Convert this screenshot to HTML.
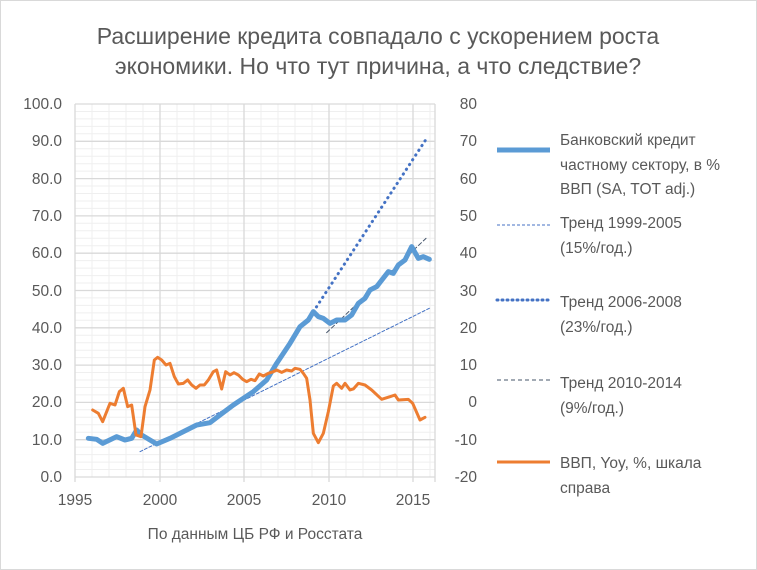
<!DOCTYPE html>
<html><head><meta charset="utf-8"><style>
body{margin:0;background:#fff}
svg{display:block;font-family:"Liberation Sans","DejaVu Sans",sans-serif;fill:#595959}
</style></head><body>
<svg width="757" height="570" viewBox="0 0 757 570" xmlns="http://www.w3.org/2000/svg">
<rect x="0.5" y="0.5" width="756" height="569" fill="#fff" stroke="#d9d9d9"/>
<text x="378" y="44" font-size="23" text-anchor="middle">Расширение кредита совпадало с ускорением роста</text>
<text x="378" y="74" font-size="23" text-anchor="middle">экономики. Но что тут причина, а что следствие?</text>
<g id="grid">
<g stroke="#efefef" stroke-width="1">
<path d="M75 111.5H435M75 118.9H435M75 126.4H435M75 133.8H435M75 148.7H435M75 156.2H435M75 163.7H435M75 171.1H435M75 186H435M75 193.5H435M75 201H435M75 208.4H435M75 223.3H435M75 230.8H435M75 238.3H435M75 245.7H435M75 260.6H435M75 268.1H435M75 275.6H435M75 283H435M75 297.9H435M75 305.4H435M75 312.9H435M75 320.3H435M75 335.2H435M75 342.7H435M75 350.2H435M75 357.6H435M75 372.5H435M75 380H435M75 387.5H435M75 394.9H435M75 409.8H435M75 417.3H435M75 424.8H435M75 432.2H435M75 447.1H435M75 454.6H435M75 462.1H435M75 469.5H435"/>
<path d="M92 104V477M109 104V477M126 104V477M143 104V477M177 104V477M194 104V477M211 104V477M228 104V477M261 104V477M278 104V477M295 104V477M312 104V477M346 104V477M363 104V477M380 104V477M397 104V477M430 104V477"/>
</g>
<g stroke="#d9d9d9" stroke-width="1.3">
<path d="M75 104H435M75 141.3H435M75 178.6H435M75 215.9H435M75 253.2H435M75 290.5H435M75 327.8H435M75 365.1H435M75 402.4H435M75 439.7H435M75 477H435"/>
<path d="M75 104V482M160 104V482M244 104V482M329 104V482M413 104V482M435 104V482"/>
</g>
</g>
<g font-size="15.5" text-anchor="end">
<text x="62" y="109">100.0</text><text x="62" y="146">90.0</text><text x="62" y="184">80.0</text><text x="62" y="221">70.0</text><text x="62" y="258">60.0</text><text x="62" y="296">50.0</text><text x="62" y="333">40.0</text><text x="62" y="370">30.0</text><text x="62" y="407">20.0</text><text x="62" y="445">10.0</text><text x="62" y="482">0.0</text>
</g>
<g font-size="15.5" text-anchor="end">
<text x="477" y="109">80</text><text x="477" y="146">70</text><text x="477" y="184">60</text><text x="477" y="221">50</text><text x="477" y="258">40</text><text x="477" y="296">30</text><text x="477" y="333">20</text><text x="477" y="370">10</text><text x="477" y="407">0</text><text x="477" y="445">-10</text><text x="477" y="482">-20</text>
</g>
<g font-size="15.5" text-anchor="middle">
<text x="75" y="505">1995</text><text x="160" y="505">2000</text><text x="244" y="505">2005</text><text x="329" y="505">2010</text><text x="413" y="505">2015</text>
</g>
<text x="255" y="539" font-size="15.5" text-anchor="middle">По данным ЦБ РФ и Росстата</text>
<g transform="translate(60,90) scale(0.33333)" fill="none" stroke-linejoin="round" stroke-linecap="round">
<polyline stroke="#4472c4" stroke-width="3" stroke-dasharray="9 6" points="240,1085 1108,655"/>
<polyline stroke="#4472c4" stroke-width="9" stroke-dasharray="1 16" points="760,665 1100,145"/>
<polyline stroke="#44546a" stroke-width="3" stroke-dasharray="12 8" points="800,728 1098,445"/>
<polyline stroke="#5b9bd5" stroke-width="15" points="85,1045 110,1048 128,1060 170,1040 195,1050 215,1045 230,1020 245,1035 290,1062 330,1045 380,1020 410,1005 450,998 480,975 520,945 550,925 580,905 620,870 650,820 690,760 720,710 745,690 760,665 775,680 790,685 810,700 830,690 855,690 875,675 895,640 915,625 930,600 950,590 985,545 1000,550 1015,525 1035,510 1055,470 1075,505 1090,500 1108,508"/>
<polyline stroke="#ed7d31" stroke-width="9" points="98,960 115,970 128,995 150,940 165,945 178,905 190,895 203,950 215,945 228,1035 243,1040 255,950 270,900 283,810 293,802 305,810 318,825 330,820 343,860 355,882 370,880 383,870 395,885 408,895 420,885 433,885 445,870 460,845 470,840 485,897 497,845 510,855 522,848 535,855 548,868 560,875 573,868 585,872 598,852 610,858 625,850 640,845 650,840 665,847 680,840 695,843 705,835 720,838 730,850 740,865 750,930 760,1030 775,1058 790,1030 805,965 820,888 830,880 845,895 855,880 870,900 880,897 895,880 915,885 935,900 965,928 990,920 1005,915 1015,930 1045,928 1058,940 1080,990 1095,982"/>
</g>
<g fill="none">
<line x1="497" y1="150" x2="550" y2="150" stroke="#5b9bd5" stroke-width="5"/>
<line x1="497" y1="225" x2="550" y2="225" stroke="#4472c4" stroke-width="1" stroke-dasharray="3 2"/>
<line x1="497" y1="300" x2="550" y2="300" stroke="#4472c4" stroke-width="3" stroke-dasharray="1 4" stroke-linecap="round"/>
<line x1="497" y1="380" x2="550" y2="380" stroke="#44546a" stroke-width="1" stroke-dasharray="4 3"/>
<line x1="497" y1="462" x2="550" y2="462" stroke="#ed7d31" stroke-width="3"/>
</g>
<g font-size="15.5">
<text x="560" y="145">Банковский кредит</text><text x="560" y="170">частному сектору, в %</text><text x="560" y="194">ВВП (SA, TOT adj.)</text>
<text x="560" y="228">Тренд 1999-2005</text><text x="560" y="253">(15%/год.)</text>
<text x="560" y="307">Тренд 2006-2008</text><text x="560" y="332">(23%/год.)</text>
<text x="560" y="388">Тренд 2010-2014</text><text x="560" y="413">(9%/год.)</text>
<text x="560" y="468">ВВП, Yoy, %, шкала</text><text x="560" y="493">справа</text>
</g>
</svg>
</body></html>
